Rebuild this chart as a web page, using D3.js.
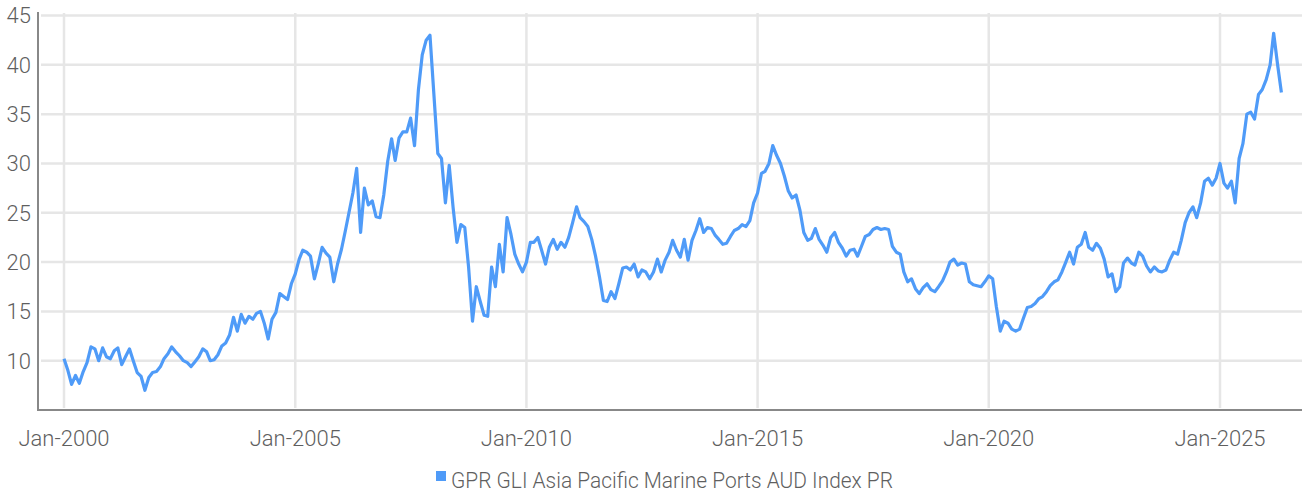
<!DOCTYPE html>
<html>
<head>
<meta charset="utf-8">
<script src="https://cdn.jsdelivr.net/npm/d3@7"></script>
<style>
  body { margin: 0; background: #fff; }
  #chart text { font-family: Roboto, "Liberation Sans Narrow", sans-serif; font-weight: 300; fill: #5f5f5f; }
</style>
</head>
<body>
<div id="chart"></div>
<script>
// monthly closing values, first month is Jan 2000
const startMonth = new Date(2000, 0, 1);
const seriesName = "GPR GLI Asia Pacific Marine Ports AUD Index PR";
const values = [
  10.2, 9.0, 7.6, 8.5, 7.7, 8.9, 9.8, 11.4, 11.2, 10.0, 11.3, 10.4,   // 2000
  10.2, 11.0, 11.3, 9.6, 10.4, 11.2, 10.0, 8.8, 8.4, 7.0, 8.3, 8.8,    // 2001
  8.9, 9.4, 10.2, 10.7, 11.4, 10.9, 10.5, 10.0, 9.8, 9.4, 9.9, 10.4,   // 2002
  11.2, 10.9, 10.0, 10.1, 10.6, 11.5, 11.8, 12.6, 14.4, 13.0, 14.7, 13.8, // 2003
  14.5, 14.2, 14.8, 15.0, 13.8, 12.2, 14.2, 14.9, 16.8, 16.5, 16.2, 17.8, // 2004
  18.8, 20.3, 21.2, 21.0, 20.6, 18.3, 19.8, 21.5, 20.9, 20.5, 18.0, 19.8, // 2005
  21.3, 23.2, 25.0, 27.0, 29.5, 23.0, 27.5, 25.8, 26.2, 24.6, 24.5, 26.8, // 2006
  30.2, 32.5, 30.3, 32.6, 33.2, 33.2, 34.6, 31.8, 37.5, 41.0, 42.5, 43.0, // 2007
  37.0, 31.0, 30.5, 26.0, 29.8, 25.5, 22.0, 23.8, 23.5, 19.5, 14.0, 17.5, // 2008
  16.0, 14.6, 14.5, 19.5, 17.5, 21.8, 19.0, 24.5, 22.8, 20.8, 19.8, 19.0, // 2009
  20.0, 22.0, 22.0, 22.5, 21.2, 19.8, 21.5, 22.3, 21.3, 22.0, 21.5, 22.5, // 2010
  24.0, 25.6, 24.5, 24.1, 23.6, 22.3, 20.6, 18.5, 16.1, 16.0, 17.0, 16.3, // 2011
  17.8, 19.4, 19.5, 19.2, 19.8, 18.5, 19.2, 19.0, 18.3, 19.0, 20.3, 19.0, // 2012
  20.2, 21.0, 22.2, 21.2, 20.5, 22.3, 20.2, 22.2, 23.2, 24.4, 23.0, 23.5, // 2013
  23.4, 22.7, 22.3, 21.8, 21.9, 22.6, 23.2, 23.4, 23.8, 23.6, 24.2, 26.0, // 2014
  27.0, 29.0, 29.2, 30.0, 31.8, 30.8, 30.0, 28.7, 27.2, 26.5, 26.8, 25.3, // 2015
  23.0, 22.2, 22.4, 23.4, 22.3, 21.7, 21.0, 22.5, 23.0, 22.0, 21.4, 20.6, // 2016
  21.2, 21.3, 20.6, 21.6, 22.6, 22.8, 23.3, 23.5, 23.3, 23.4, 23.3, 21.6, // 2017
  21.0, 20.8, 19.0, 18.0, 18.3, 17.3, 16.8, 17.4, 17.8, 17.2, 17.0, 17.5, // 2018
  18.1, 19.0, 20.0, 20.3, 19.7, 19.9, 19.8, 18.0, 17.7, 17.6, 17.5, 18.0, // 2019
  18.6, 18.3, 15.5, 13.0, 14.0, 13.8, 13.2, 13.0, 13.2, 14.3, 15.4, 15.5, // 2020
  15.8, 16.3, 16.5, 17.0, 17.6, 18.0, 18.2, 19.0, 20.0, 21.0, 19.8, 21.5, // 2021
  21.8, 23.0, 21.5, 21.2, 21.9, 21.4, 20.3, 18.5, 18.8, 17.0, 17.5, 19.9, // 2022
  20.4, 19.9, 19.7, 21.0, 20.6, 19.6, 19.0, 19.5, 19.1, 19.0, 19.2, 20.2, // 2023
  21.0, 20.8, 22.2, 24.0, 25.0, 25.6, 24.5, 26.0, 28.2, 28.5, 27.8, 28.5, // 2024
  30.0, 28.0, 27.5, 28.2, 26.0, 30.5, 32.0, 35.0, 35.2, 34.5, 37.0, 37.5, // 2025
  38.5, 40.0, 43.2, 40.0, 37.2                                             // 2026
];
const yTicks = [10, 15, 20, 25, 30, 35, 40, 45];
const xTickYears = [2000, 2005, 2010, 2015, 2020, 2025];

const width = 1302;
const height = 494;
const plotLeft = 38, plotRight = 1302, plotTop = 12, plotBottom = 410;
const blue = "#4f9bf8";

const data = values.map((v, i) => ({ date: d3.timeMonth.offset(startMonth, i), value: v }));

const svg = d3.select("#chart")
  .append("svg")
  .attr("width", width)
  .attr("height", height);

const x = d3.scaleTime()
  .domain([new Date(2000, 0, 1), new Date(2025, 0, 1)])
  .range([64, 1220]);

const y = d3.scaleLinear()
  .domain([5, 45])
  .range([410, 15.5]);

// grid
svg.append("g")
  .selectAll("line")
  .data(yTicks)
  .join("line")
  .attr("x1", plotLeft + 3)
  .attr("x2", plotRight)
  .attr("y1", d => y(d))
  .attr("y2", d => y(d))
  .attr("stroke", "#e6e6e6")
  .attr("stroke-width", 2.5);

svg.append("g")
  .selectAll("line")
  .data(xTickYears)
  .join("line")
  .attr("x1", d => x(new Date(d, 0, 1)))
  .attr("x2", d => x(new Date(d, 0, 1)))
  .attr("y1", plotTop + 1)
  .attr("y2", plotBottom - 2)
  .attr("stroke", "#e6e6e6")
  .attr("stroke-width", 2.5);

// axis lines
svg.append("line")
  .attr("x1", plotLeft).attr("x2", plotLeft)
  .attr("y1", plotTop).attr("y2", plotBottom + 1)
  .attr("stroke", "#888").attr("stroke-width", 2);

svg.append("line")
  .attr("x1", plotLeft).attr("x2", plotRight)
  .attr("y1", plotBottom).attr("y2", plotBottom)
  .attr("stroke", "#888").attr("stroke-width", 2);

// tick labels
svg.append("g")
  .selectAll("text")
  .data(yTicks)
  .join("text")
  .attr("x", 31)
  .attr("y", d => y(d))
  .attr("dy", "0.36em")
  .attr("text-anchor", "end")
  .style("font-size", "22px")
  .text(d => d);

svg.append("g")
  .selectAll("text")
  .data(xTickYears)
  .join("text")
  .attr("x", d => x(new Date(d, 0, 1)))
  .attr("y", 446)
  .attr("text-anchor", "middle")
  .style("font-size", "22px")
  .text(d => d3.timeFormat("%b-%Y")(new Date(d, 0, 1)));

// series
const line = d3.line()
  .x(d => x(d.date))
  .y(d => y(d.value));

svg.append("path")
  .datum(data)
  .attr("fill", "none")
  .attr("stroke", blue)
  .attr("stroke-width", 3.2)
  .attr("stroke-linejoin", "round")
  .attr("d", line);

// legend
const legend = svg.append("g").attr("transform", "translate(436,471)");
legend.append("rect")
  .attr("width", 10)
  .attr("height", 10)
  .attr("fill", blue);
legend.append("text")
  .attr("x", 15)
  .attr("y", 17)
  .attr("textLength", 442)
  .attr("lengthAdjust", "spacingAndGlyphs")
  .style("font-size", "22px")
  .text(seriesName);
</script>
</body>
</html>
